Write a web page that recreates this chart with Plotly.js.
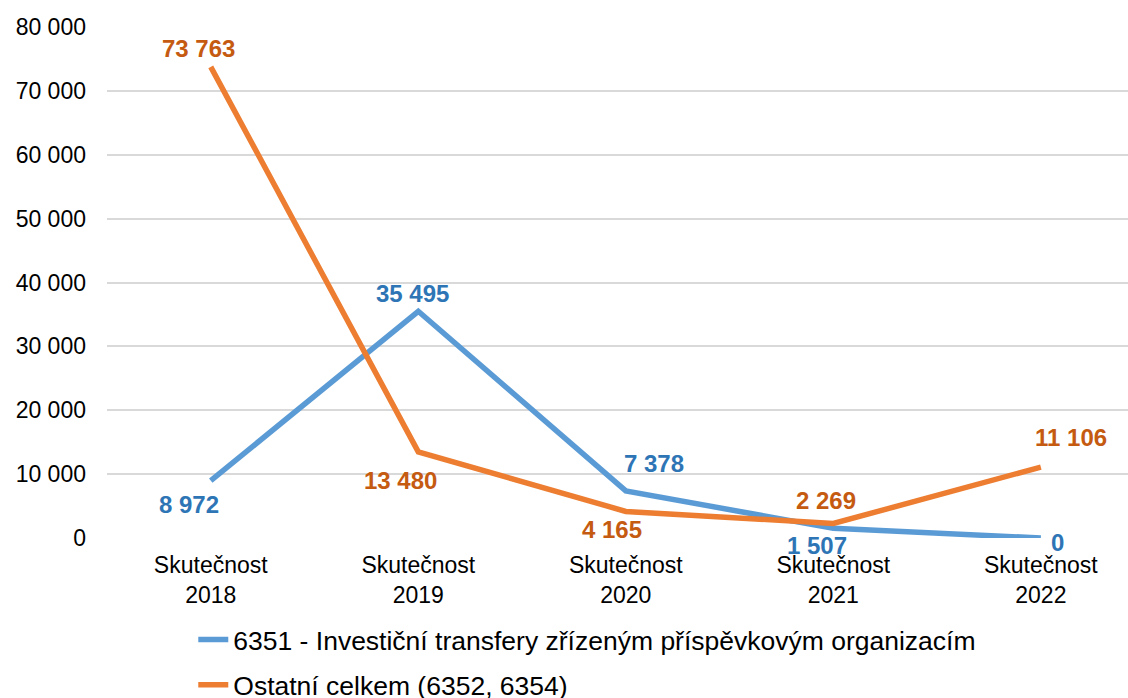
<!DOCTYPE html>
<html>
<head>
<meta charset="utf-8">
<script src="https://cdn.plot.ly/plotly-3.0.1.min.js"></script>
<style>
  html, body { margin: 0; padding: 0; background: #fff; }
  #chart { width: 1128px; height: 698px; }
</style>
</head>
<body>
<div id="chart"></div>
<script>
// categories and values
var categories = ['Skutečnost<br>2018', 'Skutečnost<br>2019', 'Skutečnost<br>2020', 'Skutečnost<br>2021', 'Skutečnost<br>2022'];
var investicni = [8972, 35495, 7378, 1507, 0];
var ostatni = [73763, 13480, 4165, 2269, 11106];
var yTicks = [0, 10000, 20000, 30000, 40000, 50000, 60000, 70000, 80000];

// label offsets in px (dx, dy) from the point
var investicniShift = [[-22, -24], [-6, 18], [28, 27], [-16, -17], [17, -4]];
var ostatniShift = [[-12, 18], [-18, -29], [-14, -18], [-7, 23], [30, 30]];

var blue = '#5b9bd5', blueText = '#2e75b6';
var orange = '#ed7d31', orangeText = '#c55a11';
var fam = 'Liberation Sans, Arial, sans-serif';

function fmt(v) {
  return String(v).replace(/\B(?=(\d{3})+(?!\d))/g, ' ');
}

var data = [
  {
    x: categories, y: investicni,
    name: '6351 - Investiční transfery zřízeným příspěvkovým organizacím',
    type: 'scatter', mode: 'lines',
    line: {color: blue, width: 5.5},
    legendgroup: 'a', hoverinfo: 'x+y'
  },
  {
    x: categories, y: ostatni,
    name: 'Ostatní celkem (6352, 6354)',
    type: 'scatter', mode: 'lines',
    line: {color: orange, width: 5.5},
    legendgroup: 'b', hoverinfo: 'x+y'
  }
];

var annotations = [];
function addLabels(vals, shifts, color) {
  for (var i = 0; i < vals.length; i++) {
    annotations.push({
      x: categories[i], y: vals[i], xref: 'x', yref: 'y',
      text: fmt(vals[i]), showarrow: false,
      xshift: shifts[i][0], yshift: shifts[i][1],
      font: {family: fam, size: 24, color: color, weight: 'bold'}
    });
  }
}
addLabels(investicni, investicniShift, blueText);
addLabels(ostatni, ostatniShift, orangeText);

var layout = {
  width: 1128, height: 698,
  margin: {l: 107, r: 0, t: 27, b: 160, autoexpand: false},
  paper_bgcolor: '#fff', plot_bgcolor: '#fff',
  separators: ', ',
  font: {family: fam, size: 22, color: '#000'},
  showlegend: true,
  legend: {
    orientation: 'v', x: 0.0845, xanchor: 'left',
    y: -0.152, yanchor: 'top',
    font: {size: 26.5, color: '#000'}, tracegroupgap: 8, traceorder: 'grouped',
    bgcolor: 'rgba(0,0,0,0)'
  },
  annotations: annotations,
  xaxis: {
    type: 'category', range: [-0.5, 4.42], automargin: false,
    showgrid: false, zeroline: false, showline: false, ticks: '',
    tickangle: 0, tickfont: {size: 23}, ticklabelstandoff: 11
  },
  yaxis: {
    range: [0, 80000], tickvals: yTicks, tickformat: ',d', automargin: false,
    showgrid: true, gridcolor: '#d9d9d9', gridwidth: 2,
    zeroline: false, showline: false, ticks: '',
    tickfont: {size: 23}, ticklabelstandoff: 20
  }
};

Plotly.newPlot('chart', data, layout, {displayModeBar: false});
</script>
</body>
</html>
